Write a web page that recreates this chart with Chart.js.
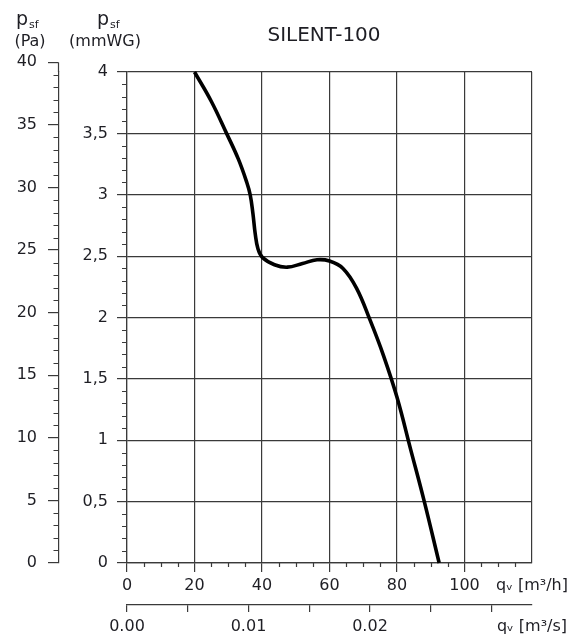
<!DOCTYPE html>
<html>
<head>
<meta charset="utf-8">
<script src="https://cdn.jsdelivr.net/npm/chart.js@4.4.1/dist/chart.umd.min.js"></script>
<style>
  html, body { margin: 0; padding: 0; background: #fff; }
  #wrap { width: 575px; height: 638px; }
</style>
</head>
<body>
<div id="wrap"><canvas id="c"></canvas></div>
<script>
// SILENT-100 fan curve
var flowM3h   = [20, 25, 29.5, 33, 35.5, 36.5, 37.3, 38.0, 38.8, 40.1, 43.7, 47.5, 52, 56.3, 60, 64, 68, 72, 76, 80, 84, 88, 92.5];
var pressMmWG = [4.0, 3.76, 3.5, 3.29, 3.1, 3.0, 2.85, 2.68, 2.56, 2.49, 2.43, 2.41, 2.44, 2.47, 2.46, 2.40, 2.24, 1.98, 1.69, 1.35, 0.93, 0.51, 0];

// axis ticks
var flowTicks  = [0, 20, 40, 60, 80, 100, 120];
var flowLabels = ['0', '20', '40', '60', '80', '100', 'qᵥ [m³/h]'];
var mmwgTicks  = [0, 0.5, 1, 1.5, 2, 2.5, 3, 3.5, 4];
var paTicks    = [0, 5, 10, 15, 20, 25, 30, 35, 40];
var m3sTicks   = [0, 0.005, 0.01, 0.015, 0.02, 0.025, 0.03, 120 / 3600];
var m3sLabels  = ['0.00', '', '0.01', '', '0.02', '', '', 'qᵥ [m³/s]'];

var PA_PER_MMWG = 9.80665;
var GRID = '#3a3a3a';
var TEXT = '#1e1e24';
var FONT = '"DejaVu Sans", sans-serif';
var NONE = 'rgba(0,0,0,0)';

function setTicks(list) {
  return function(scale) {
    scale.ticks = list.map(function(v) { return { value: v }; });
  };
}

// minor ticks, the Pa axis running on to 40, and the header texts
var extras = {
  id: 'extras',
  afterDraw: function(chart) {
    var ctx = chart.ctx, s = chart.scales, a = chart.chartArea;
    var i, x, y;
    ctx.save();
    ctx.strokeStyle = GRID;
    ctx.lineWidth = 1.2;
    ctx.beginPath();
    for (i = 1; i < 40; i++) {
      if (i % 5 === 0) continue;
      y = Math.round(s.y.getPixelForValue(i / 10)) + 0.5;
      ctx.moveTo(a.left - 5, y);
      ctx.lineTo(a.left, y);
    }
    for (i = 5; i < 120; i += 5) {
      if (i % 20 === 0) continue;
      x = Math.round(s.x.getPixelForValue(i)) + 0.5;
      ctx.moveTo(x, a.bottom);
      ctx.lineTo(x, a.bottom + 4);
    }
    var paX = s.pa.right - 0.5;
    for (i = 1; i < 40; i++) {
      if (i % 5 === 0) continue;
      y = Math.round(s.pa.getPixelForValue(i)) + 0.5;
      ctx.moveTo(paX - 5, y);
      ctx.lineTo(paX, y);
    }
    ctx.moveTo(paX, s.pa.getPixelForValue(40));
    ctx.lineTo(paX, a.top);
    ctx.stroke();

    ctx.fillStyle = TEXT;
    ctx.textBaseline = 'alphabetic';
    ctx.textAlign = 'center';
    ctx.font = '20px ' + FONT;
    ctx.fillText('SILENT-100', 324, 41);

    function psf(left) {
      ctx.textAlign = 'left';
      ctx.font = '19px ' + FONT;
      ctx.fillText('p', left, 25);
      var w = ctx.measureText('p').width;
      ctx.font = '11px ' + FONT;
      ctx.fillText('sf', left + w + 1, 28);
    }
    psf(16);
    psf(97);
    ctx.textAlign = 'center';
    ctx.textBaseline = 'middle';
    ctx.font = '16px ' + FONT;
    ctx.fillText('(Pa)', 30, 42);
    ctx.fillText('(mmWG)', 105, 42);
    ctx.restore();
  }
};

var tickFont = { family: FONT, size: 16 };

new Chart(document.getElementById('c'), {
  type: 'line',
  data: {
    datasets: [{
      data: flowM3h.map(function(q, i) { return { x: q, y: pressMmWG[i] }; }),
      borderColor: '#000',
      borderWidth: 3.6,
      pointRadius: 0,
      fill: false,
      tension: 0.4,
      clip: 6
    }]
  },
  options: {
    responsive: true,
    maintainAspectRatio: false,
    animation: false,
    layout: { padding: { top: 72, right: 43, left: 0, bottom: 0 } },
    plugins: {
      legend: { display: false },
      tooltip: { enabled: false },
      title: { display: false }
    },
    scales: {
      x: {
        type: 'linear', position: 'bottom', weight: 0,
        min: 0, max: 120,
        afterBuildTicks: setTicks(flowTicks),
        afterFit: function(s) { s.height = 42; },
        grid: {
          color: GRID, lineWidth: 1.2, tickLength: 9,
          tickColor: function(c) { return c.tick && c.tick.value === 120 ? NONE : GRID; }
        },
        border: { color: GRID, width: 1.2 },
        ticks: {
          color: TEXT, font: tickFont, padding: 4, maxRotation: 0, autoSkip: false,
          callback: function(v, i) { return flowLabels[i]; }
        }
      },
      m3s: {
        type: 'linear', position: 'bottom', weight: 1,
        min: 0, max: 120 / 3600,
        afterBuildTicks: setTicks(m3sTicks),
        afterFit: function(s) { s.height = 33; },
        grid: {
          drawOnChartArea: false, color: GRID, lineWidth: 1.2, tickLength: 7,
          tickColor: function(c) { return c.index === m3sTicks.length - 1 ? NONE : GRID; }
        },
        border: { color: GRID, width: 1.2 },
        ticks: {
          color: TEXT, font: tickFont, padding: 5, maxRotation: 0, autoSkip: false,
          callback: function(v, i) { return m3sLabels[i]; }
        }
      },
      y: {
        type: 'linear', position: 'left', weight: 0,
        min: 0, max: 4,
        afterBuildTicks: setTicks(mmwgTicks),
        afterFit: function(s) { s.width = 68; },
        grid: { color: GRID, lineWidth: 1.2, tickLength: 10 },
        border: { color: GRID, width: 1.2 },
        ticks: {
          color: TEXT, font: tickFont, padding: 9, autoSkip: false,
          callback: function(v) { return String(v).replace('.', ','); }
        }
      },
      pa: {
        type: 'linear', position: 'left', weight: 1,
        min: 0, max: 4 * PA_PER_MMWG,
        afterBuildTicks: setTicks(paTicks),
        afterFit: function(s) { s.width = 59; },
        grid: { drawOnChartArea: false, color: GRID, lineWidth: 1.2, tickLength: 11 },
        border: { color: GRID, width: 1.2 },
        ticks: {
          color: TEXT, font: tickFont, padding: 11, autoSkip: false,
          callback: function(v) { return String(v); }
        }
      }
    }
  },
  plugins: [extras]
});
</script>
</body>
</html>
